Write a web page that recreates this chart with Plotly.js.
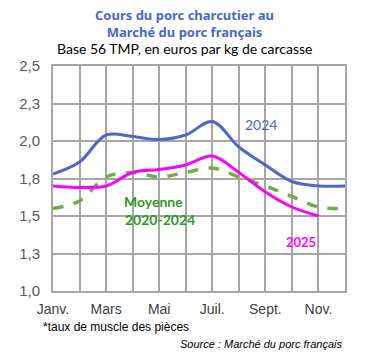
<!DOCTYPE html>
<html><head><meta charset="utf-8">
<script src="https://cdn.plot.ly/plotly-3.0.1.min.js"></script>
<style>html,body{margin:0;padding:0;background:#fff;}#chart{width:380px;height:353px;}</style>
</head><body><div id="chart"></div>
<script>
const months = [0,1,2,3,4,5,6,7,8,9,10,11];
const monthLabels = ['Janv.','','Mars','','Mai','','Juil.','','Sept.','','Nov.',''];
const s2024 = [1.78,1.86,2.04,2.03,2.01,2.04,2.13,1.96,1.84,1.73,1.70,1.70];
const s2025 = [1.70,1.69,1.70,1.79,1.81,1.84,1.90,1.79,1.66,1.56,1.50];
const moyenne = [1.55,1.60,1.76,1.79,1.76,1.79,1.82,1.76,1.70,1.63,1.56,1.55];
const yTicks = [1.0,1.25,1.5,1.75,2.0,2.25,2.5];
const yTickLabels = ['1,0','1,3','1,5','1,8','2,0','2,3','2,5'];

const traces = [
  {x: months, y: moyenne, mode:'lines', line:{color:'#70ad47', width:3.5, dash:'dash', shape:'spline'}, name:'Moyenne 2020-2024'},
  {x: months.slice(0, s2025.length), y: s2025, mode:'lines', line:{color:'#ff00ff', width:3, shape:'spline'}, name:'2025'},
  {x: months, y: s2024, mode:'lines', line:{color:'#4f68c2', width:3, shape:'spline'}, name:'2024'}
];

const gridC = '#a6a6a6';
const layout = {
  width:380, height:353,
  margin:{l:53, r:35, t:66, b:62},
  paper_bgcolor:'#fff', plot_bgcolor:'#fff',
  showlegend:false,
  font:{family:'Liberation Sans, Arial, sans-serif', color:'#404040'},
  xaxis:{range:[0,11], tickvals:months, ticktext:monthLabels, showgrid:true, gridcolor:gridC, gridwidth:2,
         showline:true, linecolor:gridC, linewidth:2, mirror:true, zeroline:false, ticks:'',
         ticklabelstandoff:4,
         tickfont:{size:14, color:'#404040'}, fixedrange:true},
  yaxis:{range:[1.0,2.5], tickvals:yTicks, ticktext:yTickLabels, showgrid:true, gridcolor:gridC, gridwidth:2,
         showline:true, linecolor:gridC, linewidth:2, mirror:true, zeroline:false, ticks:'', ticklen:0,
         ticklabelstandoff:8,
         tickfont:{size:15, color:'#595959'}, fixedrange:true},
  annotations:[
    {xref:'paper', yref:'paper', x:0.452, y:1.187, text:'<b>Cours du porc charcutier au<br>Marché du porc français</b>',
     showarrow:false, font:{family:'Noto Sans, sans-serif', size:13, color:'#4a67c6'}, xanchor:'center', yanchor:'middle'},
    {xref:'paper', yref:'paper', x:0.452, y:1.076, text:'Base 56 TMP, en euros par kg de carcasse',
     showarrow:false, font:{family:'Lato, sans-serif', size:14, color:'#000'}, xanchor:'center', yanchor:'middle'},
    {xref:'paper', yref:'paper', x:-0.041, y:-0.158, text:'*taux de muscle des pièces',
     showarrow:false, font:{family:'Liberation Sans, Arial, sans-serif', size:12, color:'#000'}, xanchor:'left', yanchor:'middle'},
    {xref:'paper', yref:'paper', x:1.0, y:-0.236, text:'<i>Source : Marché du porc français</i>',
     showarrow:false, font:{family:'Liberation Sans, Arial, sans-serif', size:11, color:'#000'}, xanchor:'right', yanchor:'middle'},
    {x:7.83, y:2.11, text:'2024', showarrow:false, font:{family:'Lato, sans-serif', size:14, color:'#4a67c6'}, xanchor:'center', yanchor:'middle'},
    {x:9.34, y:1.33, text:'<b>2025</b>', showarrow:false, font:{family:'Lato, sans-serif', size:13, color:'#ff00ff'}, xanchor:'center', yanchor:'middle'},
    {x:3.77, y:1.60, text:'<b>Moyenne</b>', showarrow:false, font:{family:'Lato, sans-serif', size:14, color:'#2e9a1f'}, xanchor:'center', yanchor:'middle'},
    {x:4.03, y:1.48, text:'<b>2020-2024</b>', showarrow:false, font:{family:'Lato, sans-serif', size:14, color:'#2e9a1f'}, xanchor:'center', yanchor:'middle'}
  ]
};
Plotly.newPlot('chart', traces, layout, {staticPlot:true, displayModeBar:false});
</script>
</body></html>
